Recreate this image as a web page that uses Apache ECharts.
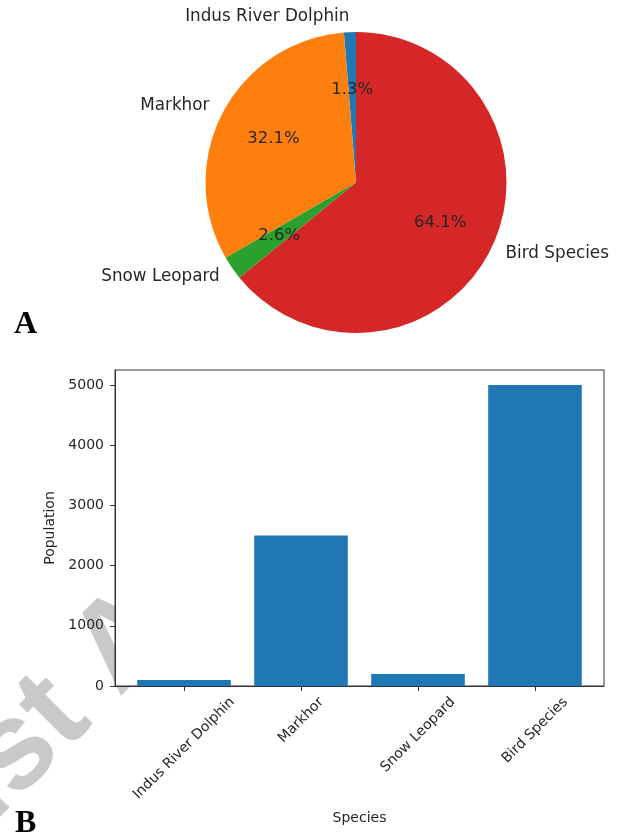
<!DOCTYPE html>
<html>
<head>
<meta charset="utf-8">
<script src="https://cdn.jsdelivr.net/npm/echarts@6/dist/echarts.min.js"></script>
<style>
  html, body { margin: 0; padding: 0; background: #fff; }
  #chart { width: 629px; height: 835px; }
</style>
</head>
<body>
<div id="chart"></div>
<script>
// Species and their population counts
const species = ['Indus River Dolphin', 'Markhor', 'Snow Leopard', 'Bird Species'];
const population = [100, 2500, 200, 5000];
const pieColors = ['#1f77b4', '#ff7f0e', '#2ca02c', '#d62728'];
const barColor = '#1f77b4';
const xTicks = [0, 1, 2, 3];
const yTicks = [0, 1000, 2000, 3000, 4000, 5000];
const panelLabels = ['A', 'B'];
const watermarkText = 'Just A';

const FONT = '"DejaVu Sans", sans-serif';
const TEXT_COLOR = '#262626';
const LINE_COLOR = '#333';

// pie geometry
const PIE_CX = 356, PIE_CY = 182.5, PIE_R = 150.5;

const total = population.reduce((a, b) => a + b, 0);

// rotated tick labels are centred under their tick: pad each label so the
// rotation pivot sits at the top of its rotated box
const TICK_FONT_SIZE = 14;
const measureCtx = document.createElement('canvas').getContext('2d');
measureCtx.font = TICK_FONT_SIZE + 'px ' + FONT;
const rich = {};
species.forEach((name, i) => {
  const w = measureCtx.measureText(name).width;
  const p = 0.5 * (w + TICK_FONT_SIZE);
  rich['c' + i] = {
    fontSize: TICK_FONT_SIZE, fontFamily: FONT, color: TEXT_COLOR,
    padding: [p, p, 0, 0]
  };
});

const chart = echarts.init(document.getElementById('chart'), null, { renderer: 'canvas' });

const pieData = species.map((name, i) => ({
  name: name, value: population[i], itemStyle: { color: pieColors[i] }
}));

const option = {
  animation: false,
  backgroundColor: '#fff',
  grid: {
    left: 115, right: 25, top: 370, bottom: 149,
    show: true, backgroundColor: '#fff', borderColor: LINE_COLOR, borderWidth: 1,
    containLabel: false, outerBoundsMode: 'none'
  },
  xAxis: {
    type: 'value', min: -0.59, max: 3.59,
    splitLine: { show: false },
    axisLine: { show: true, onZero: false, lineStyle: { color: LINE_COLOR, width: 1 } },
    axisTick: { show: true, length: 5, customValues: xTicks, lineStyle: { color: LINE_COLOR } },
    axisLabel: {
      customValues: xTicks, rotate: 45, align: 'center', verticalAlign: 'middle', margin: 9,
      formatter: (v) => '{c' + Math.round(v) + '|' + species[Math.round(v)] + '}',
      rich: rich
    },
    name: 'Species', nameLocation: 'middle', nameGap: 125,
    nameTextStyle: { fontSize: 14, fontFamily: FONT, color: TEXT_COLOR }
  },
  yAxis: {
    type: 'value', min: 0, max: 5250,
    splitLine: { show: false },
    axisLine: { show: true, onZero: false, lineStyle: { color: LINE_COLOR, width: 1 } },
    axisTick: { show: true, length: 5, customValues: yTicks, lineStyle: { color: LINE_COLOR } },
    axisLabel: {
      customValues: yTicks, margin: 11, fontSize: 14, fontFamily: FONT, color: TEXT_COLOR,
      formatter: (v) => String(v)
    },
    name: 'Population', nameLocation: 'middle', nameGap: 43, nameRotate: 90,
    nameTextStyle: { fontSize: 14, fontFamily: FONT, color: TEXT_COLOR }
  },
  graphic: {
    elements: [
      {
        // faint watermark lying under the plot area
        type: 'text', z: -10, silent: true,
        x: -112, y: 880, rotation: 45 * Math.PI / 180,
        style: {
          text: watermarkText, font: 'bold 125px "Liberation Sans"', fill: '#c9c9c9',
          textAlign: 'left', textVerticalAlign: 'middle'
        }
      },
      {
        type: 'text', silent: true, x: 14, y: 325,
        style: { text: panelLabels[0], font: 'bold 32px "Liberation Serif"', fill: '#000',
                 textAlign: 'left', textVerticalAlign: 'middle' }
      },
      {
        type: 'text', silent: true, x: 15, y: 824,
        style: { text: panelLabels[1], font: 'bold 32px "Liberation Serif"', fill: '#000',
                 textAlign: 'left', textVerticalAlign: 'middle' }
      }
    ]
  },
  series: [
    {
      type: 'pie', silent: true,
      center: [PIE_CX, PIE_CY], radius: PIE_R,
      startAngle: 90, clockwise: false, avoidLabelOverlap: false,
      data: pieData,
      label: {
        show: true, position: 'outside', distanceToLabelLine: 0,
        fontSize: 16.8, fontFamily: FONT, color: TEXT_COLOR,
        formatter: '{b}'
      },
      labelLine: { show: false, length: 0.1 * PIE_R, length2: 0 },
      emphasis: { disabled: true }
    },
    {
      type: 'pie', silent: true,
      center: [PIE_CX, PIE_CY], radius: [0, 1.2 * PIE_R],
      startAngle: 90, clockwise: false, avoidLabelOverlap: false,
      data: pieData.map(d => ({ name: d.name, value: d.value })),
      itemStyle: { color: 'rgba(0,0,0,0)' },
      label: {
        show: true, position: 'inside', rotate: 0,
        fontSize: 16.5, fontFamily: FONT, color: TEXT_COLOR,
        formatter: (p) => (p.value / total * 100).toFixed(1) + '%'
      },
      labelLine: { show: false },
      emphasis: { disabled: true }
    },
    {
      type: 'bar', silent: true,
      data: population.map((v, i) => [xTicks[i], v]),
      barWidth: '80%',
      itemStyle: { color: barColor }
    }
  ]
};

chart.setOption(option);
</script>
</body>
</html>
